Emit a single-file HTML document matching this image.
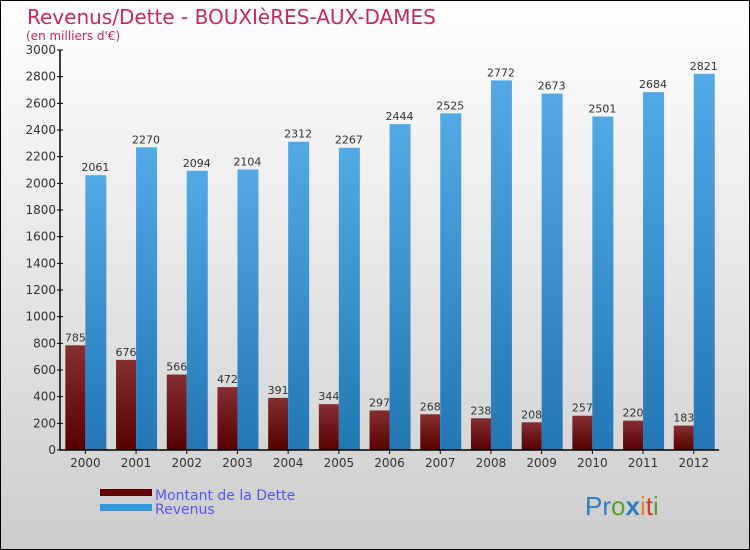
<!DOCTYPE html>
<html><head><meta charset="utf-8"><style>
body{margin:0}
svg{display:block;font-family:"DejaVu Sans","Liberation Sans",sans-serif}
</style></head><body>
<svg width="750" height="550" viewBox="0 0 750 550">
<defs>
<linearGradient id="bg" x1="0" y1="0" x2="0" y2="1"><stop offset="0" stop-color="#ffffff"/><stop offset="1" stop-color="#cdcdcd"/></linearGradient>
<linearGradient id="red" x1="0" y1="0" x2="0" y2="1"><stop offset="0" stop-color="#852f33"/><stop offset="1" stop-color="#560000"/></linearGradient>
<linearGradient id="blue" x1="0" y1="0" x2="0" y2="1"><stop offset="0" stop-color="#52a9e6"/><stop offset="1" stop-color="#2476b5"/></linearGradient>
</defs>
<rect x="0.5" y="0.5" width="749" height="549" fill="url(#bg)" stroke="#000"/>
<text x="27" y="24" font-size="20" fill="#c8285a">Revenus/Dette - BOUXIèRES-AUX-DAMES</text>
<text x="26" y="40" font-size="12" fill="#c8285a">(en milliers d'€)</text>
<g id="grid"></g>
<g id="bars"></g>
<g id="axes"></g>
<g>
<rect x="100" y="489" width="52" height="7" fill="#600000"/>
<text x="155" y="500" font-size="14" fill="#5555ee">Montant de la Dette</text>
<rect x="100" y="504" width="52" height="7" fill="#3399dd"/>
<text x="155" y="514" font-size="14" fill="#5555ee">Revenus</text>
</g>
<text x="585" y="515" font-size="26" font-family="'Liberation Sans',sans-serif"><tspan fill="#2a7fc4">Pr</tspan><tspan fill="#5aa02c">o</tspan><tspan fill="#2a7fc4" font-weight="bold">x</tspan><tspan fill="#f07a1a">i</tspan><tspan fill="#d03a2a">t</tspan><tspan fill="#5aa02c">i</tspan></text>
</svg>
<script>
const years=["2000","2001","2002","2003","2004","2005","2006","2007","2008","2009","2010","2011","2012"];
const dette=[785,676,566,472,391,344,297,268,238,208,257,220,183];
const revenus=[2061,2270,2094,2104,2312,2267,2444,2525,2772,2673,2501,2684,2821];
const yTicks=[0,200,400,600,800,1000,1200,1400,1600,1800,2000,2200,2400,2600,2800,3000];
const NS="http://www.w3.org/2000/svg";
const x0=60,step=50.7,yBase=450,yTop=50,yMax=3000;
const y=v=>yBase-(v/yMax)*(yBase-yTop);
const xc=i=>x0+step*(i+0.5);
function mk(tag,attrs,parent,text){const e=document.createElementNS(NS,tag);for(const k in attrs)e.setAttribute(k,attrs[k]);if(text!==undefined)e.textContent=text;parent.appendChild(e);return e;}
const bars=document.getElementById('bars'),axes=document.getElementById('axes');
years.forEach((yr,i)=>{
  const c=xc(i);
  const d=mk('rect',{x:c-20,y:y(dette[i]),width:20,height:yBase-y(dette[i]),fill:'url(#red)'},bars);
  
  
  const r=mk('rect',{x:c,y:y(revenus[i]),width:21,height:yBase-y(revenus[i]),fill:'url(#blue)'},bars);
  
  
  const t1=mk('text',{x:c-10,y:y(dette[i])-4,'font-size':11,fill:'#333','text-anchor':'middle'},bars,dette[i]);
  
  
  const t2=mk('text',{x:c+10,y:y(revenus[i])-4,'font-size':11,fill:'#333','text-anchor':'middle'},bars,revenus[i]);
  
  
  const xl=mk('text',{x:c,y:467,'font-size':12,fill:'#333','text-anchor':'middle'},axes,yr);
  
  
  mk('line',{x1:c,x2:c,y1:yBase,y2:yBase+4,stroke:'#000'},axes);
});
yTicks.forEach(v=>{
  const tl=mk('text',{x:56,y:y(v)+4,'font-size':12,fill:'#333','text-anchor':'end'},axes,v);
  
  
  mk('line',{x1:x0-3,x2:x0+3,y1:y(v),y2:y(v),stroke:'#000'},axes);
});
const ya=mk('line',{x1:x0,x2:x0,y1:yTop,y2:yBase,stroke:'#000','stroke-width':1.5},axes);


const xa=mk('line',{x1:x0,x2:x0+step*13,y1:yBase,y2:yBase,stroke:'#000','stroke-width':1.5},axes);


</script>
</body></html>
